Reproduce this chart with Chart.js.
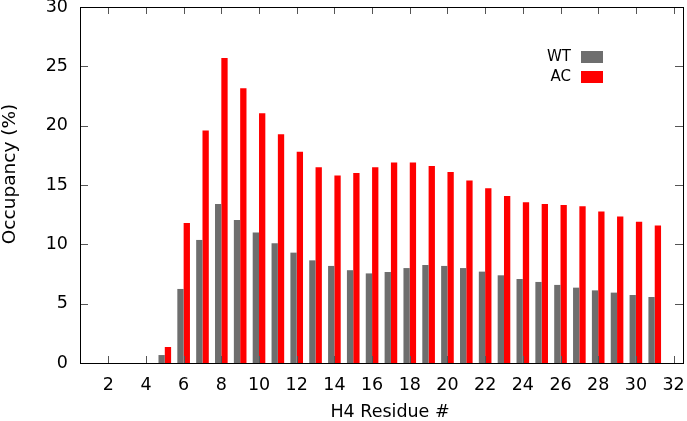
<!DOCTYPE html>
<html lang="en">
<head>
  <meta charset="UTF-8" />
  <title>H4 Residue Occupancy</title>
  <script src="https://cdn.jsdelivr.net/npm/chart.js"></script>
  <style>
    html, body { margin: 0; padding: 0; background: #fff; }
    #wrap { width: 687px; height: 421px; }
  </style>
</head>
<body>
  <div id="wrap"><canvas id="grafico" width="687" height="421"></canvas></div>

  <script>
    // values
    const residues = ['1','2','3','4','5','6','7','8','9','10','11','12','13','14','15','16',
                      '17','18','19','20','21','22','23','24','25','26','27','28','29','30','31','32'];
    const wt = [0, 0, 0, 0, 0.67, 6.24, 10.37, 13.4, 12.06, 10.99, 10.09, 9.3, 8.65, 8.18, 7.82, 7.55,
                7.67, 8.0, 8.26, 8.18, 8.0, 7.7, 7.39, 7.08, 6.83, 6.58, 6.35, 6.12, 5.93, 5.73, 5.56, 0];
    const ac = [0, 0, 0, 0, 1.35, 11.8, 19.6, 25.7, 23.16, 21.05, 19.28, 17.8, 16.5, 15.8, 16.02, 16.5,
                16.9, 16.9, 16.6, 16.1, 15.37, 14.72, 14.08, 13.54, 13.4, 13.32, 13.2, 12.76, 12.34, 11.91, 11.58, 0];
    const seriesNames = ['WT', 'AC'];
    const seriesColors = ['#6e6e6e', '#ff0000'];
    const yTicks = [0, 5, 10, 15, 20, 25, 30];
    const xTitle = 'H4 Residue #';
    const yTitle = 'Occupancy (%)';

    const fonte = 'DejaVu Sans';

    // gnuplot style frame: box round the plot, ticks pointing inward on all sides
    const moldura = {
      id: 'moldura',
      afterDatasetsDraw(chart) {
        const { ctx, chartArea: a, scales: { x, y } } = chart;
        ctx.save();
        ctx.strokeStyle = '#555';
        ctx.lineWidth = 1;
        ctx.beginPath();
        x.ticks.forEach((t, i) => {
          if (Number(residues[i]) % 2 !== 0) return;
          const px = Math.round(x.getPixelForTick(i)) + 0.5;
          ctx.moveTo(px, a.bottom); ctx.lineTo(px, a.bottom - 7);
          ctx.moveTo(px, a.top); ctx.lineTo(px, a.top + 7);
        });
        yTicks.forEach(v => {
          const py = Math.round(y.getPixelForValue(v)) + 0.5;
          ctx.moveTo(a.left, py); ctx.lineTo(a.left + 8, py);
          ctx.moveTo(a.right, py); ctx.lineTo(a.right - 8, py);
        });
        ctx.stroke();

        ctx.strokeStyle = '#000';
        ctx.strokeRect(Math.round(a.left) + 0.5, Math.round(a.top) + 0.5,
                       Math.round(a.right - a.left), Math.round(a.bottom - a.top));

        // axis titles, placed where gnuplot put them
        ctx.fillStyle = '#000';
        ctx.textAlign = 'center';
        ctx.textBaseline = 'middle';
        ctx.font = '17.5px "' + fonte + '"';
        ctx.fillText(xTitle, 390, 412);
        ctx.save();
        ctx.translate(10, 174);
        ctx.rotate(-Math.PI / 2);
        ctx.font = '18.5px "' + fonte + '"';
        ctx.fillText(yTitle, 0, 0);
        ctx.restore();

        // legend: text right aligned, swatch to its right
        ctx.font = '15px "' + fonte + '"';
        ctx.textAlign = 'right';
        chart.data.datasets.forEach((ds, i) => {
          const cy = 57 + i * 20;
          ctx.fillStyle = '#000';
          ctx.fillText(ds.label, 571, cy);
          ctx.fillStyle = ds.backgroundColor;
          ctx.fillRect(581, cy - 6, 22, 12);
        });
        ctx.restore();
      }
    };

    new Chart(document.getElementById('grafico'), {
      type: 'bar',
      data: {
        labels: residues,
        datasets: [
          { label: seriesNames[0], data: wt, backgroundColor: seriesColors[0] },
          { label: seriesNames[1], data: ac, backgroundColor: seriesColors[1] }
        ]
      },
      options: {
        responsive: false,
        animation: false,
        devicePixelRatio: 1,
        layout: { padding: { top: 7, right: 4, left: 0, bottom: 0 } },
        datasets: { bar: { barPercentage: 1, categoryPercentage: 0.67, borderWidth: 0 } },
        plugins: { legend: { display: false }, tooltip: { enabled: false } },
        scales: {
          x: {
            grid: { display: false, drawTicks: false },
            border: { display: false },
            ticks: {
              autoSkip: false, maxRotation: 0, padding: 12, color: '#000',
              font: { family: fonte, size: 17.5 },
              callback: (v, i) => (Number(residues[i]) % 2 === 0 ? residues[i] : '')
            },
            afterFit: s => { s.height = 58; s.paddingLeft = 0; s.paddingRight = 0; }
          },
          y: {
            min: 0, max: 30,
            grid: { display: false, drawTicks: false },
            border: { display: false },
            ticks: { stepSize: 5, padding: 12, color: '#000', font: { family: fonte, size: 17.5 } },
            afterFit: s => { s.width = 80; s.paddingTop = 0; s.paddingBottom = 0; }
          }
        }
      },
      plugins: [moldura]
    });
  </script>
</body>
</html>
